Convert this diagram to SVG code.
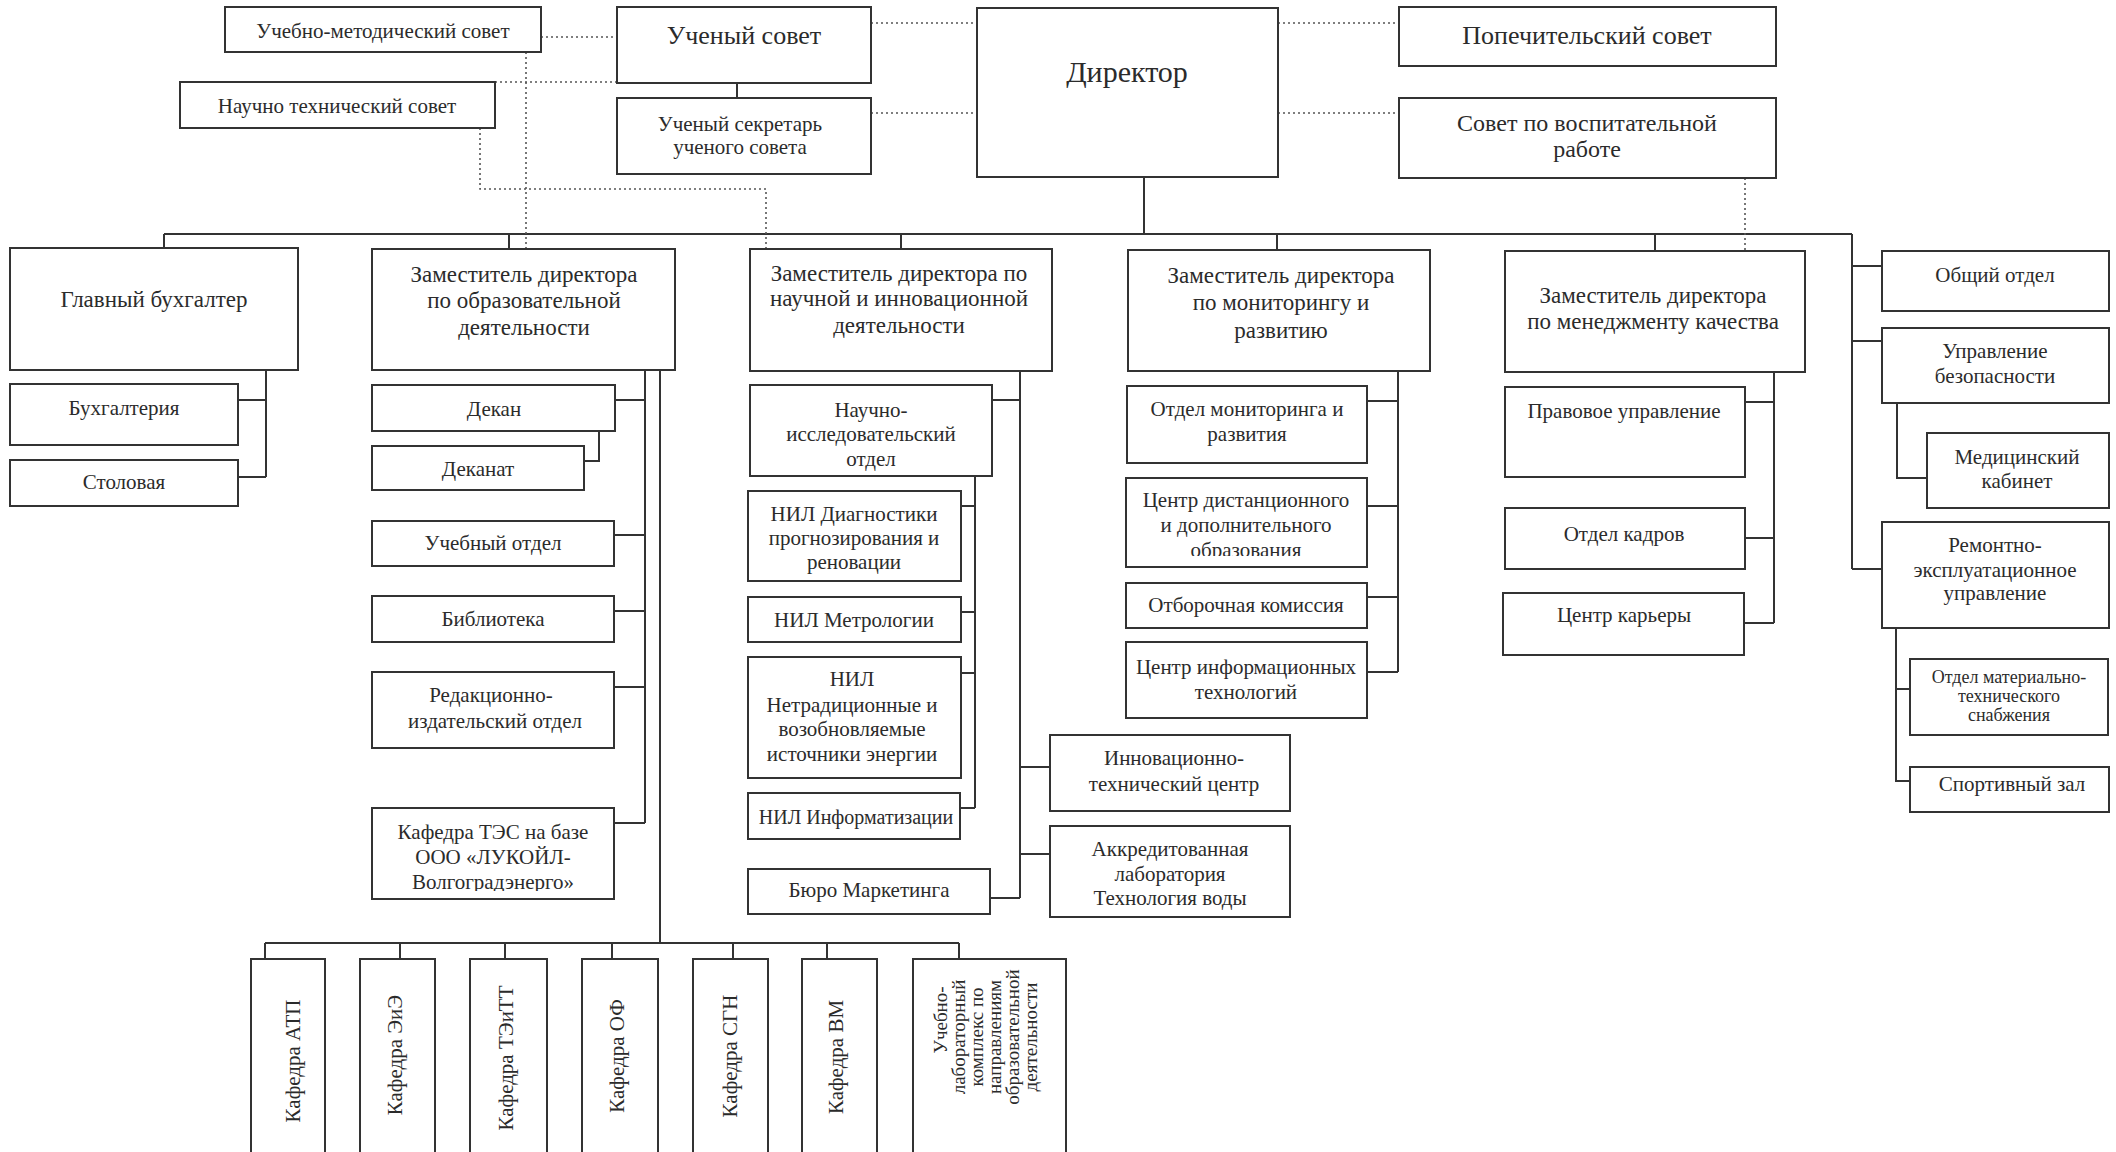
<svg xmlns="http://www.w3.org/2000/svg" width="2116" height="1152" viewBox="0 0 2116 1152">
<style>
.box{fill:#fff;stroke:#333;stroke-width:2}
.ln{fill:none;stroke:#333;stroke-width:2}
.dot{fill:none;stroke:#555;stroke-width:1.6;stroke-dasharray:2 3}
text{font-family:"Liberation Serif","Times New Roman",serif;font-size:21px;fill:#2b2b2b;text-anchor:middle}
.h{font-size:23px}
.big{font-size:26px}
.svr{font-size:24px}
.dir{font-size:30px}
.sm{font-size:20px}
.xs{font-size:18px}
.v{font-size:21px}
.vs{font-size:19px}
</style>
<defs>
<clipPath id="c1"><rect x="1126" y="478" width="241" height="78"/></clipPath>
<clipPath id="c2"><rect x="372" y="808" width="242" height="83"/></clipPath>
</defs>
<rect width="2116" height="1152" fill="#fff"/>
<g id="connectors">
<path class="ln" d="M164 234H1852M164 234V248M509 234V249M901 234V249M1277 234V250M1655 234V251M1144 177V234"/>
<path class="ln" d="M737 83V98"/>
<path class="ln" d="M1852 234V569M1852 266H1882M1852 341H1882M1852 569H1882"/>
<path class="ln" d="M1897 403V478H1927"/>
<path class="ln" d="M1896 628V781H1910M1896 689H1910"/>
<path class="ln" d="M266 370V477M238 400H266M238 477H266"/>
<path class="ln" d="M645 370V823M615 400H645M614 535H645M614 611H645M614 687H645M614 823H645"/>
<path class="ln" d="M599 431V461H584"/>
<path class="ln" d="M660 370V943M265 943H959M265 943V959M400 943V959M505 943V959M612 943V959M733 943V959M827 943V959M959 943V959"/>
<path class="ln" d="M1020 371V898M992 400H1020M1020 767H1050M1020 854H1050M990 898H1020"/>
<path class="ln" d="M975 476V808M961 506H975M961 612H975M961 673H975M960 808H975"/>
<path class="ln" d="M1398 371V672M1367 401H1398M1367 506H1398M1367 597H1398M1367 672H1398"/>
<path class="ln" d="M1774 372V623M1745 402H1774M1745 538H1774M1744 623H1774"/>
<path class="dot" d="M541 37H617M495 82H617M526 52V249M480 128V189H766V249M871 23H977M871 113H977M1278 23H1399M1278 113H1399M1745 178V251"/>
</g>
<g id="n-umc"><rect class="box" x="225" y="7" width="316" height="45"/><text x="383" y="38">Учебно-методический совет</text></g>
<g id="n-us"><rect class="box" x="617" y="7" width="254" height="76"/><text class="big" x="744" y="44">Ученый совет</text></g>
<g id="n-nts"><rect class="box" x="180" y="82" width="315" height="46"/><text x="337" y="113">Научно технический совет</text></g>
<g id="n-sec"><rect class="box" x="617" y="98" width="254" height="76"/><text x="740" y="131">Ученый секретарь</text><text x="740" y="154">ученого совета</text></g>
<g id="n-dir"><rect class="box" x="977" y="8" width="301" height="169"/><text class="dir" x="1127" y="82">Директор</text></g>
<g id="n-pop"><rect class="box" x="1399" y="7" width="377" height="59"/><text class="big" x="1587" y="44">Попечительский совет</text></g>
<g id="n-svr"><rect class="box" x="1399" y="98" width="377" height="80"/><text class="svr" x="1587" y="131">Совет по воспитательной</text><text class="svr" x="1587" y="157">работе</text></g>
<g id="n-gb"><rect class="box" x="10" y="248" width="288" height="122"/><text class="h" x="154" y="307">Главный бухгалтер</text></g>
<g id="n-zo"><rect class="box" x="372" y="249" width="303" height="121"/><text class="h" x="524" y="282">Заместитель директора</text><text class="h" x="524" y="308">по образовательной</text><text class="h" x="524" y="335">деятельности</text></g>
<g id="n-zn"><rect class="box" x="750" y="249" width="302" height="122"/><text class="h" x="899" y="281">Заместитель директора по</text><text class="h" x="899" y="306">научной и инновационной</text><text class="h" x="899" y="333">деятельности</text></g>
<g id="n-zm"><rect class="box" x="1128" y="250" width="302" height="121"/><text class="h" x="1281" y="283">Заместитель директора</text><text class="h" x="1281" y="310">по мониторингу и</text><text class="h" x="1281" y="338">развитию</text></g>
<g id="n-zk"><rect class="box" x="1505" y="251" width="300" height="121"/><text class="h" x="1653" y="303">Заместитель директора</text><text class="h" x="1653" y="329">по менеджменту качества</text></g>
<g id="n-buh"><rect class="box" x="10" y="384" width="228" height="61"/><text x="124" y="415">Бухгалтерия</text></g>
<g id="n-stol"><rect class="box" x="10" y="460" width="228" height="46"/><text x="124" y="489">Столовая</text></g>
<g id="n-dekan"><rect class="box" x="372" y="385" width="243" height="46"/><text x="494" y="416">Декан</text></g>
<g id="n-dekanat"><rect class="box" x="372" y="446" width="212" height="44"/><text x="478" y="476">Деканат</text></g>
<g id="n-uo"><rect class="box" x="372" y="521" width="242" height="45"/><text x="493" y="550">Учебный отдел</text></g>
<g id="n-bib"><rect class="box" x="372" y="596" width="242" height="46"/><text x="493" y="626">Библиотека</text></g>
<g id="n-rio"><rect class="box" x="372" y="672" width="242" height="76"/><text x="491" y="702">Редакционно-</text><text x="495" y="728">издательский отдел</text></g>
<g id="n-tes"><rect class="box" x="372" y="808" width="242" height="91"/><text x="493" y="839">Кафедра ТЭС на базе</text><text x="493" y="864">ООО «ЛУКОЙЛ-</text><text x="493" y="889" clip-path="url(#c2)">Волгоградэнерго»</text></g>
<g id="n-nio"><rect class="box" x="750" y="385" width="242" height="91"/><text x="871" y="417">Научно-</text><text x="871" y="441">исследовательский</text><text x="871" y="466">отдел</text></g>
<g id="n-nil1"><rect class="box" x="748" y="491" width="213" height="90"/><text x="854" y="521">НИЛ Диагностики</text><text x="854" y="545">прогнозирования и</text><text x="854" y="569">реновации</text></g>
<g id="n-nil2"><rect class="box" x="748" y="597" width="213" height="45"/><text x="854" y="627">НИЛ Метрологии</text></g>
<g id="n-nil3"><rect class="box" x="748" y="657" width="213" height="121"/><text x="852" y="686">НИЛ</text><text x="852" y="712">Нетрадиционные и</text><text x="852" y="736">возобновляемые</text><text x="852" y="761">источники энергии</text></g>
<g id="n-nil4"><rect class="box" x="748" y="793" width="212" height="46"/><text class="sm" x="856" y="824">НИЛ Информатизации</text></g>
<g id="n-bm"><rect class="box" x="748" y="869" width="242" height="45"/><text x="869" y="897">Бюро Маркетинга</text></g>
<g id="n-itc"><rect class="box" x="1050" y="735" width="240" height="76"/><text x="1174" y="765">Инновационно-</text><text x="1174" y="791">технический центр</text></g>
<g id="n-akk"><rect class="box" x="1050" y="826" width="240" height="91"/><text x="1170" y="856">Аккредитованная</text><text x="1170" y="881">лаборатория</text><text x="1170" y="905">Технология воды</text></g>
<g id="n-omr"><rect class="box" x="1127" y="386" width="240" height="77"/><text x="1247" y="416">Отдел мониторинга и</text><text x="1247" y="441">развития</text></g>
<g id="n-cdo"><rect class="box" x="1126" y="478" width="241" height="89"/><text x="1246" y="507">Центр дистанционного</text><text x="1246" y="532">и дополнительного</text><text x="1246" y="557" clip-path="url(#c1)">образования</text></g>
<g id="n-ok"><rect class="box" x="1126" y="583" width="241" height="45"/><text x="1246" y="612">Отборочная комиссия</text></g>
<g id="n-cit"><rect class="box" x="1126" y="642" width="241" height="76"/><text x="1246" y="674">Центр информационных</text><text x="1246" y="699">технологий</text></g>
<g id="n-pu"><rect class="box" x="1505" y="387" width="240" height="90"/><text x="1624" y="418">Правовое управление</text></g>
<g id="n-ok2"><rect class="box" x="1505" y="508" width="240" height="61"/><text x="1624" y="541">Отдел кадров</text></g>
<g id="n-ck"><rect class="box" x="1503" y="593" width="241" height="62"/><text x="1624" y="622">Центр карьеры</text></g>
<g id="n-oo"><rect class="box" x="1882" y="251" width="227" height="60"/><text x="1995" y="282">Общий отдел</text></g>
<g id="n-ub"><rect class="box" x="1882" y="328" width="227" height="75"/><text x="1995" y="358">Управление</text><text x="1995" y="383">безопасности</text></g>
<g id="n-med"><rect class="box" x="1927" y="433" width="182" height="75"/><text x="2017" y="464">Медицинский</text><text x="2017" y="488">кабинет</text></g>
<g id="n-reu"><rect class="box" x="1882" y="522" width="227" height="106"/><text x="1995" y="552">Ремонтно-</text><text x="1995" y="577">эксплуатационное</text><text x="1995" y="600">управление</text></g>
<g id="n-omts"><rect class="box" x="1910" y="659" width="198" height="76"/><text class="xs" x="2009" y="683">Отдел материально-</text><text class="xs" x="2009" y="702">технического</text><text class="xs" x="2009" y="721">снабжения</text></g>
<g id="n-sz"><rect class="box" x="1910" y="767" width="199" height="45"/><text x="2012" y="791">Спортивный зал</text></g>
<g id="n-k1"><rect class="box" x="251" y="959" width="74" height="210"/><text class="v" transform="translate(293 1061) rotate(-90)" y="7">Кафедра АТП</text></g>
<g id="n-k2"><rect class="box" x="360" y="959" width="75" height="210"/><text class="v" transform="translate(395 1055) rotate(-90)" y="7">Кафедра ЭиЭ</text></g>
<g id="n-k3"><rect class="box" x="470" y="959" width="77" height="210"/><text class="v" transform="translate(506 1058) rotate(-90)" y="7">Кафедра ТЭиТТ</text></g>
<g id="n-k4"><rect class="box" x="582" y="959" width="76" height="210"/><text class="v" transform="translate(617 1056) rotate(-90)" y="7">Кафедра ОФ</text></g>
<g id="n-k5"><rect class="box" x="693" y="959" width="75" height="210"/><text class="v" transform="translate(730 1056) rotate(-90)" y="7">Кафедра СГН</text></g>
<g id="n-k6"><rect class="box" x="802" y="959" width="75" height="210"/><text class="v" transform="translate(836 1057) rotate(-90)" y="7">Кафедра ВМ</text></g>
<g id="n-ulk"><rect class="box" x="913" y="959" width="153" height="210"/>
<text class="vs" transform="translate(941 1020) rotate(-90)" y="6">Учебно-</text>
<text class="vs" transform="translate(959 1037) rotate(-90)" y="6">лабораторный</text>
<text class="vs" transform="translate(977 1037) rotate(-90)" y="6">комплекс по</text>
<text class="vs" transform="translate(995 1037) rotate(-90)" y="6">направлениям</text>
<text class="vs" transform="translate(1013 1037) rotate(-90)" y="6">образовательной</text>
<text class="vs" transform="translate(1031 1037) rotate(-90)" y="6">деятельности</text>
</g>
</svg>
